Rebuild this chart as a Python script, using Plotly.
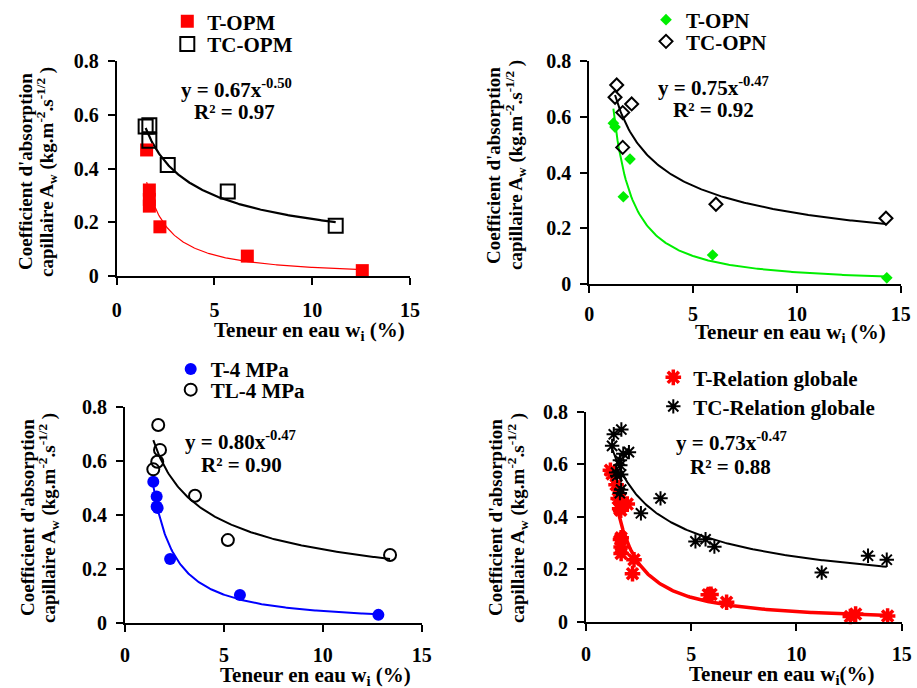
import numpy as np
import plotly.graph_objects as go

W, H = 917, 688

# ---------------- data ----------------
# Top-left: OPM
t_opm_x = [1.53, 1.67, 1.67, 1.67, 2.21, 6.68, 12.56]
t_opm_y = [0.469, 0.32, 0.285, 0.26, 0.183, 0.074, 0.02]
tc_opm_x = [1.48, 1.67, 1.67, 2.61, 5.68, 11.2]
tc_opm_y = [0.556, 0.561, 0.503, 0.413, 0.314, 0.187]
tc_opm_fit = (0.67, -0.50)

# Top-right: OPN
t_opn_x = [1.16, 1.24, 1.96, 1.64, 5.94, 14.33]
t_opn_y = [0.577, 0.563, 0.448, 0.313, 0.104, 0.022]
tc_opn_x = [1.32, 1.24, 1.61, 2.04, 1.61, 6.1, 14.29]
tc_opn_y = [0.714, 0.67, 0.615, 0.646, 0.49, 0.286, 0.236]
tc_opn_fit = (0.75, -0.47)

# Bottom-left: 4 MPa
t_4_x = [1.43, 1.60, 1.60, 1.65, 2.28, 5.81, 12.81]
t_4_y = [0.522, 0.467, 0.43, 0.425, 0.236, 0.103, 0.029]
tl_4_x = [1.68, 1.77, 1.63, 1.43, 3.54, 5.2, 13.4]
tl_4_y = [0.732, 0.640, 0.596, 0.568, 0.47, 0.306, 0.251]
tl_4_fit = (0.80, -0.47)

# Bottom-right: global relation (union of the series)
t_glob_x = t_opm_x + t_opn_x + t_4_x
t_glob_y = t_opm_y + t_opn_y + t_4_y
tc_glob_x = tc_opm_x + tc_opn_x + tl_4_x
tc_glob_y = tc_opm_y + tc_opn_y + tl_4_y
tc_glob_fit = (0.73, -0.47)

x_ticks = [0, 5, 10, 15]
y_ticks = [0, 0.2, 0.4, 0.6, 0.8]

FONT = "Liberation Serif, Times New Roman, Tinos, serif"


def power_fit(x, y):
    b, ln_a = np.polyfit(np.log(x), np.log(y), 1)
    return np.exp(ln_a), b


def curve(x, coef):
    a, b = coef
    xs = np.linspace(min(x), max(x), 200)
    return xs, a * xs ** b


# ---------------- layout geometry (pixels) ----------------
panels = {
    1: dict(x=(116.7, 410.0), y=(61.0, 276.0), xstand=8),
    2: dict(x=(589.3, 900.7), y=(61.0, 284.0), xstand=4),
    3: dict(x=(125.0, 421.7), y=(406.7, 622.7), xstand=6),
    4: dict(x=(586.0, 901.7), y=(411.7, 621.7), xstand=6),
}


def px(xp):
    return xp / W


def py(yp):
    return 1 - yp / H


def bfont(size):
    return dict(family=FONT, size=size, color="black", weight="bold")


fig = go.Figure()

series = [
    # panel, x, y, name, symbol, color, size, line color, line width, legend
    (1, t_opm_x, t_opm_y, "T-OPM", "square", "#ff0000", 13, "#ff0000", 0, "legend"),
    (1, tc_opm_x, tc_opm_y, "TC-OPM", "square-open", "black", 14, "black", 2, "legend2"),
    (2, t_opn_x, t_opn_y, "T-OPN", "diamond", "#00ee00", 9, "#00ee00", 0, "legend3"),
    (2, tc_opn_x, tc_opn_y, "TC-OPN", "diamond-open", "black", 10, "black", 2, "legend4"),
    (3, t_4_x, t_4_y, "T-4 MPa", "circle", "#0000ff", 12, "#0000ff", 0, "legend5"),
    (3, tl_4_x, tl_4_y, "TL-4 MPa", "circle-open", "black", 12, "black", 2, "legend6"),
    (4, t_glob_x, t_glob_y, "T-Relation globale", "asterisk-open", "#ff0000", 13, "#ff0000", 3.5, "legend7"),
    (4, tc_glob_x, tc_glob_y, "TC-Relation globale", "asterisk-open", "black", 12, "black", 2, "legend8"),
]

fits = [
    (1, t_opm_x, power_fit(t_opm_x, t_opm_y), "#ff0000", 1.2),
    (1, tc_opm_x, tc_opm_fit, "black", 2.2),
    (2, t_opn_x, power_fit(t_opn_x, t_opn_y), "#00ee00", 2.0),
    (2, tc_opn_x, tc_opn_fit, "black", 2.0),
    (3, t_4_x, power_fit(t_4_x, t_4_y), "#0000ff", 2.0),
    (3, tl_4_x, tl_4_fit, "black", 2.0),
    (4, t_glob_x, power_fit(t_glob_x, t_glob_y), "#ff0000", 3.5),
    (4, tc_glob_x, tc_glob_fit, "black", 2.0),
]

for p, x, coef, col, lw in fits:
    xs, ys = curve(x, coef)
    fig.add_trace(go.Scatter(
        x=xs, y=ys, mode="lines", line=dict(color=col, width=lw),
        xaxis=f"x{p}", yaxis=f"y{p}", showlegend=False, hoverinfo="skip"))

for p, x, y, name, sym, col, size, lcol, lw, leg in series:
    fig.add_trace(go.Scatter(
        x=x, y=y, mode="markers", name=name,
        marker=dict(symbol=sym, color=col, size=size,
                    line=dict(color=lcol, width=lw)),
        xaxis=f"x{p}", yaxis=f"y{p}", legend=leg, cliponaxis=False))

layout = dict(
    width=W, height=H, margin=dict(l=0, r=0, t=0, b=0, autoexpand=False),
    paper_bgcolor="white", plot_bgcolor="white",
    font=bfont(20),
)

for p, g in panels.items():
    layout[f"xaxis{p}"] = dict(
        domain=[px(g["x"][0]), px(g["x"][1])], range=[0, 15],
        tickvals=x_ticks, showline=True, linecolor="black", linewidth=2,
        ticks="outside", ticklen=7, tickwidth=2, tickcolor="black",
        showgrid=False, zeroline=False, tickfont=bfont(20),
        ticklabelstandoff=g["xstand"], anchor=f"y{p}", fixedrange=True,
        automargin=False)
    layout[f"yaxis{p}"] = dict(
        domain=[py(g["y"][1]), py(g["y"][0])], range=[0, 0.8],
        tickvals=y_ticks, showline=True, linecolor="black", linewidth=2,
        ticks="outside", ticklen=7, tickwidth=2, tickcolor="black",
        showgrid=False, zeroline=False, tickfont=bfont(20),
        ticklabelstandoff=5, anchor=f"x{p}", fixedrange=True, automargin=False)

# legends: (legend id, symbol centre x, centre y)
legend_pos = [
    ("legend", 187.3, 21.7), ("legend2", 187.3, 44.3),
    ("legend3", 666.0, 20.0), ("legend4", 666.0, 41.7),
    ("legend5", 190.7, 369.3), ("legend6", 190.7, 390.0),
    ("legend7", 673.3, 377.7), ("legend8", 673.3, 406.7),
]
for lid, cx, cy in legend_pos:
    layout[lid] = dict(x=px(cx - 20), y=py(cy), xanchor="left", yanchor="middle",
                       bgcolor="rgba(0,0,0,0)", borderwidth=0, font=bfont(21))

anns = []
# equations
eqs = [
    ("y = 0.67x<sup>-0.50</sup>", "R² = 0.97", 236.7, 88.3, 235.0, 111.7),
    ("y = 0.75x<sup>-0.47</sup>", "R² = 0.92", 713.0, 86.0, 713.0, 110.0),
    ("y = 0.80x<sup>-0.47</sup>", "R² = 0.90", 240.0, 440.0, 241.7, 465.0),
    ("y = 0.73x<sup>-0.47</sup>", "R² = 0.88", 731.7, 441.7, 730.0, 466.7),
]
for e1, e2, x1, y1, x2, y2 in eqs:
    for t, xx, yy in ((e1, x1, y1), (e2, x2, y2)):
        anns.append(dict(text=t, x=px(xx), y=py(yy), xref="paper", yref="paper",
                         xanchor="center", yanchor="middle", showarrow=False,
                         font=bfont(21)))

# axis titles (two separate lines)
ytitle1 = "Coefficient d'absorption"
ytitle2 = "capillaire A<sub>w</sub> (kg.m<sup>-2</sup>.s<sup>-1/2</sup> )"
for x1, x2, yy in ((25, 46, 172), (493, 515, 165), (27, 48, 518), (495, 517, 518)):
    for t, xx in ((ytitle1, x1), (ytitle2, x2)):
        anns.append(dict(text=t, x=px(xx), y=py(yy), xref="paper", yref="paper",
                         xanchor="center", yanchor="middle", textangle=-90,
                         showarrow=False, font=bfont(19)))

xtitles = [
    ("Teneur en eau w<sub>i</sub> (%)", 309, 331.0),
    ("Teneur en eau w<sub>i</sub> (%)", 790, 333.0),
    ("Teneur en eau w<sub>i</sub> (%)", 315, 675.5),
    ("Teneur en eau w<sub>i</sub>(%)", 781.7, 675.0),
]
for t, xx, yy in xtitles:
    anns.append(dict(text=t, x=px(xx), y=py(yy), xref="paper", yref="paper",
                     xanchor="center", yanchor="middle", showarrow=False,
                     font=bfont(21)))

layout["annotations"] = anns
fig.update_layout(**layout)
fig.write_html("out.html", config={"displayModeBar": False},
               post_script="document.body.style.margin='0';document.body.style.overflow='hidden';")
